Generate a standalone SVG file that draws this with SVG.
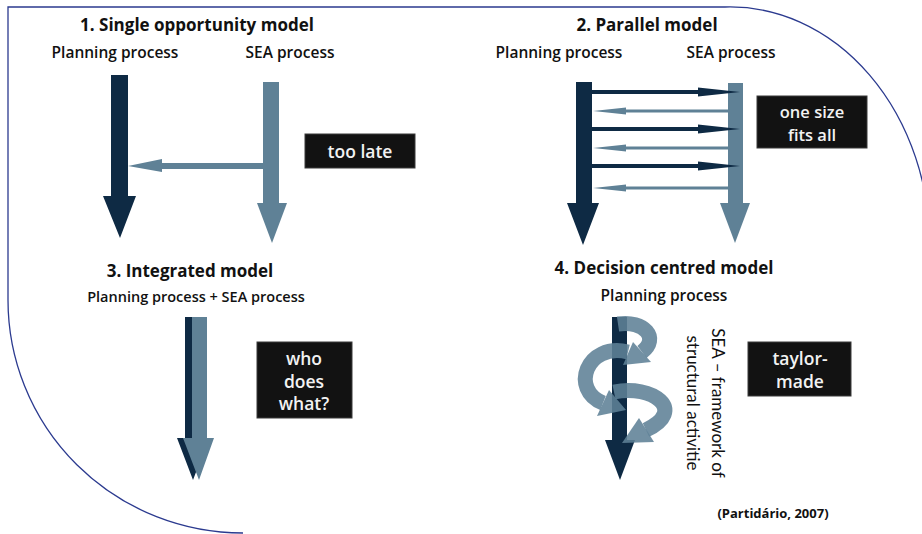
<svg xmlns="http://www.w3.org/2000/svg" width="922" height="534" viewBox="0 0 922 534">
<style>
text{font-family:"Open Sans",Lato,"Liberation Sans",sans-serif;fill:#111}
.t{font-size:17px;font-weight:bold;text-anchor:middle}
.l{font-size:15.5px;font-weight:600;text-anchor:middle}
.bx{fill:#121212;stroke:#3a3a3a;stroke-width:1}
.bt{font-size:17.5px;font-weight:600;fill:#f2f2f2;text-anchor:middle}
.dk{fill:#0e2a44}
.lt{fill:#5f8196}
.sp{fill:none;stroke:#5f8196;stroke-width:15;stroke-opacity:.88}
.sph{fill:#5f8196;fill-opacity:.88}
.v{font-family:Lato,"Open Sans",sans-serif;font-size:17px;text-anchor:middle}
</style>
<rect width="922" height="534" fill="#fff"/>
<path d="M243 533 A235 233 0 0 1 8 300 L8 7 L725 7 A200 240 0 0 1 930 247" fill="none" stroke="#2b3a8f" stroke-width="1.3"/>

<g id="model1">
<text class="t" x="197" y="31">1. Single opportunity model</text>
<text class="l" x="115" y="58">Planning process</text>
<text class="l" x="290" y="58">SEA process</text>
</g>
<g id="m1-planning"><polygon class="dk" points="111,75 128,75 128,196 136,196 120,238 103,196 111,196"/></g>
<g id="m1-sea"><polygon class="lt" points="263,82 279,82 279,203 287,203 272,243 257,203 263,203"/></g>
<g id="m1-box"><rect class="bx" x="305" y="134" width="110" height="34"/><text class="bt" x="360" y="158">too late</text></g>

<g id="model2">
<text class="t" x="647" y="31">2. Parallel model</text>
<text class="l" x="559" y="58">Planning process</text>
<text class="l" x="731" y="58">SEA process</text>
</g>
<g id="m2-planning"><polygon class="dk" points="576,82 592,82 592,203 599,203 583,245 567,203 576,203"/></g>
<g id="m2-sea"><polygon class="lt" points="728,83 743,83 743,203 750,203 735,243 720,203 728,203"/></g>
<g id="m2-box"><rect class="bx" x="757" y="96" width="110" height="52"/><text class="bt" x="812" y="118" style="font-size:16.5px">one size</text><text class="bt" x="812" y="141" style="font-size:16.5px">fits all</text></g>

<g id="model3">
<text class="t" x="190" y="277">3. Integrated model</text>
<text class="l" x="196" y="302" style="font-size:14.5px">Planning process + SEA process</text>
</g>
<g id="m3-arrow">
<polygon class="dk" points="185,317 201,317 201,438 209,438 193,480 177,438 185,438"/>
<polygon class="lt" points="192,317 207,317 207,438 214,438 199,480 183,438 192,438"/>
</g>
<g id="m3-box"><rect class="bx" x="257" y="342" width="95" height="76"/><text class="bt" x="304" y="365">who</text><text class="bt" x="304" y="388">does</text><text class="bt" x="304" y="410">what?</text></g>

<g id="model4">
<text class="t" x="664" y="274">4. Decision centred model</text>
<text class="l" x="664" y="301">Planning process</text>
</g>
<g id="m4-planning"><polygon class="dk" points="612,317 627,317 627,440 635,440 620,480 605,440 612,440"/></g>
<g id="m4-spiral">
<path class="sp" d="M618 324 C644 320 660 338 642 352"/>
<polygon class="sph" points="651,362 633,342 623,365"/>
<path class="sp" d="M628 352 C586 342 570 390 603 403"/>
<polygon class="sph" points="597,416 609,390 626,410"/>
<path class="sp" d="M614 392 C652 384 688 410 646 430"/>
<polygon class="sph" points="654,442 639,418 622,443"/>
</g>
<g id="m4-label">
<text class="v" transform="translate(712,403) rotate(90)">SEA – framework of</text>
<text class="v" transform="translate(687,403) rotate(90)">structural activitie</text>
</g>
<g id="m4-box"><rect class="bx" x="748" y="342" width="103" height="54"/><text class="bt" x="800" y="365">taylor-</text><text class="bt" x="800" y="388">made</text></g>

<g id="connectors">
<rect class="lt" x="160" y="163" width="104" height="6"/>
<polygon class="lt" points="128,166 162,159 162,172"/>
<g class="dk">
<rect x="592" y="90" width="108" height="4"/><polygon points="698,87.5 740,92 698,96.5"/>
<rect x="592" y="127" width="108" height="4"/><polygon points="698,124.5 740,129 698,133.5"/>
<rect x="592" y="164" width="108" height="4"/><polygon points="698,161.5 740,166 698,170.5"/>
</g>
<g class="lt">
<rect x="623" y="109.5" width="106" height="3"/><polygon points="593,111 626,107.5 626,114.5"/>
<rect x="623" y="146.5" width="106" height="3"/><polygon points="593,148 626,144.5 626,151.5"/>
<rect x="623" y="186.5" width="106" height="3"/><polygon points="593,188 626,184.5 626,191.5"/>
</g>
</g>

<text x="773" y="518" style="font-size:13px;font-weight:bold;text-anchor:middle">(Partidário, 2007)</text>
</svg>
